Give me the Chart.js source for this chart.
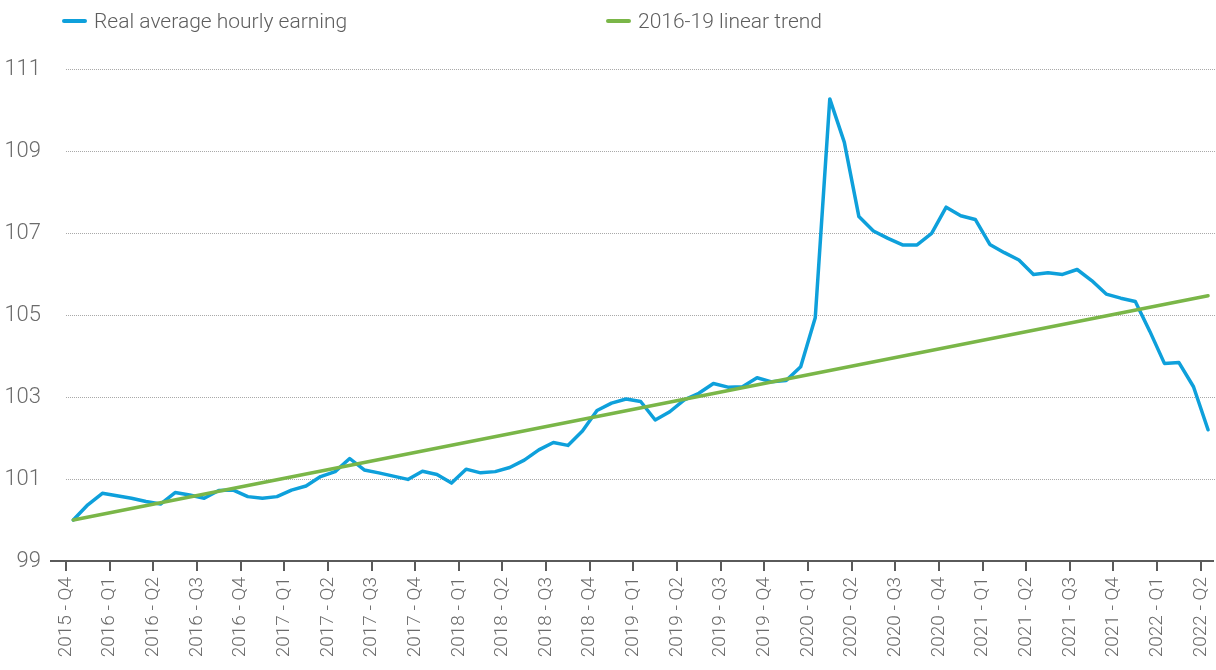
<!DOCTYPE html>
<html>
<head>
<meta charset="utf-8">
<script src="https://cdn.jsdelivr.net/npm/chart.js@4.4.1/dist/chart.umd.min.js"></script>
<style>
  body { margin: 0; background: #fff; }
  #wrap { position: relative; width: 1216px; height: 670px; }
  #legend { position: absolute; top: 7px; left: 0; width: 1216px; height: 28px;
            font-family: Roboto, sans-serif; font-weight: 300; font-size: 21px; color: #5e5e5e; }
  #legend .item { position: absolute; top: 0; white-space: nowrap; line-height: 28px; }
  #legend .item i { display: inline-block; width: 25px; height: 4px; border-radius: 2px;
                    vertical-align: middle; margin-right: 7px; position: relative; top: -1px; }
</style>
</head>
<body>
<div id="wrap">
  <canvas id="wageChart"></canvas>
  <div id="legend"></div>
</div>
<script>
// Ярлыки кварталов (каждая третья точка)
const quarterLabels = [
  '2015 - Q4', '2016 - Q1', '2016 - Q2', '2016 - Q3', '2016 - Q4',
  '2017 - Q1', '2017 - Q2', '2017 - Q3', '2017 - Q4',
  '2018 - Q1', '2018 - Q2', '2018 - Q3', '2018 - Q4',
  '2019 - Q1', '2019 - Q2', '2019 - Q3', '2019 - Q4',
  '2020 - Q1', '2020 - Q2', '2020 - Q3', '2020 - Q4',
  '2021 - Q1', '2021 - Q2', '2021 - Q3', '2021 - Q4',
  '2022 - Q1', '2022 - Q2'
];

// Месячные значения, дек 2015 = 100
const realEarnings = [
  100.00, 100.37, 100.65, 100.59, 100.53, 100.45, 100.39, 100.67, 100.61, 100.53,
  100.72, 100.73, 100.57, 100.53, 100.57, 100.73, 100.83, 101.06, 101.18, 101.50,
  101.22, 101.15, 101.07, 100.99, 101.19, 101.11, 100.90, 101.24, 101.15, 101.18,
  101.28, 101.46, 101.71, 101.89, 101.82, 102.17, 102.67, 102.85, 102.95, 102.89,
  102.44, 102.64, 102.93, 103.09, 103.33, 103.24, 103.25, 103.47, 103.37, 103.40,
  103.74, 104.93, 110.27, 109.21, 107.40, 107.05, 106.87, 106.71, 106.71, 106.99,
  107.63, 107.42, 107.33, 106.72, 106.52, 106.34, 105.99, 106.03, 105.99, 106.11,
  105.84, 105.51, 105.41, 105.33, 104.60, 103.82, 103.84, 103.25, 102.20
];

// Тренд 2016-19: начало и конец прямой
const trendPoints = [
  { x: 0, y: 100.00 },
  { x: 78, y: 105.47 }
];

const seriesNames = ['Real average hourly earning', '2016-19 linear trend'];
const seriesColors = ['#0ea0db', '#7ab648'];

// Пунктирная сетка по оси Y (начинается от первого деления X)
const dottedGrid = {
  id: 'dottedGrid',
  beforeDatasetsDraw(chart) {
    const { ctx, scales: { x, y } } = chart;
    const x0 = x.getPixelForValue(x.ticks[0].value);
    ctx.save();
    ctx.strokeStyle = '#a8a8a8';
    ctx.lineWidth = 1;
    ctx.setLineDash([1, 1]);
    y.ticks.forEach(t => {
      if (t.value === y.min) return;
      const py = Math.round(y.getPixelForValue(t.value)) + 0.5;
      ctx.beginPath();
      ctx.moveTo(x0, py);
      ctx.lineTo(chart.width, py);
      ctx.stroke();
    });
    ctx.restore();
  }
};

const legend = document.getElementById('legend');
const legendLeft = [62, 606];
seriesNames.forEach((name, i) => {
  const item = document.createElement('span');
  item.className = 'item';
  item.style.left = legendLeft[i] + 'px';
  item.innerHTML = '<i style="background:' + seriesColors[i] + '"></i>' + name;
  legend.appendChild(item);
});

const tickFont = { family: 'Roboto', weight: 300 };

const ctx = document.getElementById('wageChart').getContext('2d');
new Chart(ctx, {
  type: 'line',
  data: {
    datasets: [
      {
        label: seriesNames[0],
        data: realEarnings.map((v, i) => ({ x: i, y: v })),
        borderColor: seriesColors[0],
        borderWidth: 3.5,
        pointRadius: 0,
        borderJoinStyle: 'round',
        borderCapStyle: 'round',
        tension: 0,
        fill: false,
        order: 1
      },
      {
        label: seriesNames[1],
        data: trendPoints,
        borderColor: seriesColors[1],
        borderWidth: 3.5,
        pointRadius: 0,
        borderCapStyle: 'round',
        fill: false,
        order: 0
      }
    ]
  },
  options: {
    responsive: true,
    maintainAspectRatio: false,
    animation: false,
    layout: { padding: { top: 69, left: 0, right: 3, bottom: 0 } },
    plugins: {
      legend: { display: false },
      tooltip: { enabled: false }
    },
    scales: {
      x: {
        type: 'linear',
        min: -1.53,
        max: 78.34,
        afterBuildTicks: scale => {
          scale.ticks = quarterLabels.map((_, k) => ({ value: 3 * k - 0.5 }));
        },
        afterFit: scale => {
          scale.height = 109;
          scale.paddingLeft = 0;
          scale.paddingRight = 0;
        },
        ticks: {
          autoSkip: false,
          minRotation: 90,
          maxRotation: 90,
          padding: 6,
          color: '#6b6b6b',
          font: { ...tickFont, size: 19 },
          callback: (value, index) => quarterLabels[index]
        },
        grid: {
          drawOnChartArea: false,
          drawTicks: true,
          tickLength: 10,
          color: '#5a5a5a',
          lineWidth: 2
        },
        border: { display: true, color: '#5a5a5a', width: 2 }
      },
      y: {
        min: 99,
        max: 111,
        afterFit: scale => { scale.width = 51; },
        ticks: {
          stepSize: 2,
          padding: 10,
          color: '#6b6b6b',
          font: { ...tickFont, size: 22 }
        },
        grid: { display: false, drawTicks: false },
        border: { display: false }
      }
    }
  },
  plugins: [dottedGrid]
});
</script>
</body>
</html>
